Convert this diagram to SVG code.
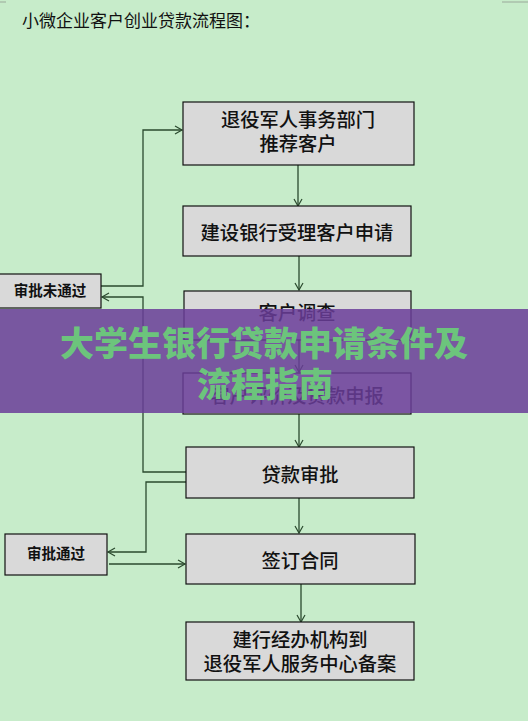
<svg xmlns="http://www.w3.org/2000/svg" width="528" height="721" viewBox="0 0 528 721">
<defs>
<marker id="arr" markerWidth="10" markerHeight="10" refX="8" refY="5" orient="auto" markerUnits="userSpaceOnUse">
<path d="M1,1 L8,5 L1,9" fill="none" stroke="#2b4a2e" stroke-width="1.2"/>
</marker>
</defs>
<style>
.box{fill:#d9d9d9;stroke:#111;stroke-width:1.2}
.t{font-family:"Liberation Serif","Noto Sans CJK SC",serif;font-size:19.3px;fill:#111;text-anchor:middle;font-weight:500}
.s{font-family:"Liberation Sans","Noto Sans CJK SC",sans-serif;font-size:14.5px;font-weight:bold;fill:#111;text-anchor:middle}
.c{fill:none;stroke:#2b4a2e;stroke-width:1.3}
.b{font-family:"Liberation Sans","Noto Sans CJK SC",sans-serif;font-size:34px;font-weight:900;fill:#6cc47c;text-anchor:middle}
</style>
<rect x="0" y="0" width="528" height="721" fill="#c7ecca"/>
<path d="M502,2 H528 M0,2 H6" stroke="#9aa89a" stroke-width="1" fill="none"/>
<text x="22" y="27" font-family="Liberation Sans,'Noto Sans CJK SC',sans-serif" font-size="17" fill="#111">小微企业客户创业贷款流程图：</text>

<g id="connectors">
<path class="c" d="M298,165 V206" marker-end="url(#arr)"/>
<path class="c" d="M299,256 V290" marker-end="url(#arr)"/>
<path class="c" d="M299,340 V372" marker-end="url(#arr)"/>
<path class="c" d="M299,414 V447" marker-end="url(#arr)"/>
<path class="c" d="M299,498 V533" marker-end="url(#arr)"/>
<path class="c" d="M301,584 V622" marker-end="url(#arr)"/>
<path class="c" d="M101,286 H143 V130 H182" marker-end="url(#arr)"/>
<path class="c" d="M186,472 H143 V297 H102" marker-end="url(#arr)"/>
<path class="c" d="M186,482 H146 V552 H108" marker-end="url(#arr)"/>
<path class="c" d="M109,564 H185" marker-end="url(#arr)"/>
</g>

<g id="n1"><rect class="box" x="183" y="102" width="231" height="63"/>
<text class="t" x="298" y="127">退役军人事务部门</text>
<text class="t" x="298" y="151">推荐客户</text></g>
<g id="n2"><rect class="box" x="183" y="206" width="228" height="50"/>
<text class="t" x="297" y="240">建设银行受理客户申请</text></g>
<g id="n3"><rect class="box" x="184" y="291" width="227" height="49"/>
<text class="t" x="297" y="320">客户调查</text></g>
<g id="n4"><rect class="box" x="183" y="373" width="228" height="41"/>
<text class="t" x="297" y="403">客户评价及贷款申报</text></g>
<g id="n5"><rect class="box" x="186" y="447" width="228" height="51"/>
<text class="t" x="300" y="482">贷款审批</text></g>
<g id="n6"><rect class="box" x="186" y="534" width="229" height="50"/>
<text class="t" x="300" y="568">签订合同</text></g>
<g id="n7"><rect class="box" x="186" y="622" width="228" height="58"/>
<text class="t" x="300" y="647">建行经办机构到</text>
<text class="t" x="300" y="671">退役军人服务中心备案</text></g>
<g id="n8"><rect class="box" x="-1" y="274" width="102" height="34"/>
<text class="s" x="50" y="296">审批未通过</text></g>
<g id="n9"><rect class="box" x="5" y="534" width="102" height="41"/>
<text class="s" x="56" y="559">审批通过</text></g>

<g id="banner">
<rect x="0" y="309" width="528" height="104" fill="#6a3d99" fill-opacity="0.85"/>
<text class="b" x="264" y="356">大学生银行贷款申请条件及</text>
<text class="b" x="265" y="397">流程指南</text>
</g>
</svg>
